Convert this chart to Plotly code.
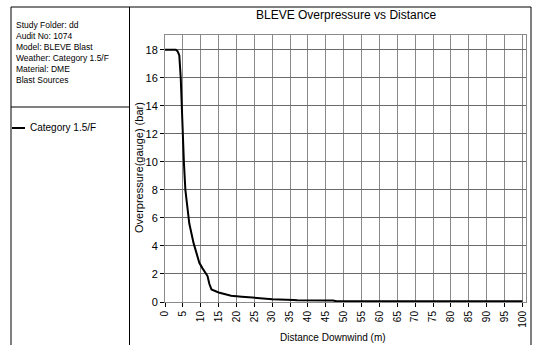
import plotly.graph_objects as go

distance_m = [0, 1, 2, 3, 3.5, 4, 4.4, 4.9, 5.3, 5.7, 6.8, 8.0, 9.6, 10.5, 11.9, 12.4, 13.0, 15,
              18.5, 21.5, 25, 28.5, 30, 36, 37, 47, 48, 100]
overpressure_bar = [18, 18, 18, 18, 17.9, 17.6, 16, 12.2, 9.9, 8.0, 5.6, 4.2, 2.8, 2.4, 1.85, 1.3,
                    0.9, 0.68, 0.45, 0.38, 0.3, 0.25, 0.2, 0.15, 0.12, 0.1, 0.05, 0.05]
x_ticks = list(range(0, 101, 5))
y_ticks = list(range(0, 19, 2))
info_lines = ["Study Folder: dd", "Audit No: 1074", "Model: BLEVE Blast",
              "Weather: Category 1.5/F", "Material: DME", "Blast Sources"]
series_name = "Category 1.5/F"

W, H = 533, 345
L, R, T, B = 165, 526, 35, 302
pw, ph = R - L, B - T
FONT = "Liberation Sans, Arial, sans-serif"


def px(x):
    return (x - L) / pw


def py(y):
    return (B - y) / ph


fig = go.Figure()
fig.add_trace(go.Scatter(x=distance_m, y=overpressure_bar, mode="lines",
                         line=dict(color="black", width=2), name=series_name,
                         showlegend=False, hoverinfo="skip"))

fig.update_layout(
    width=W, height=H,
    margin=dict(l=L, r=W - R, t=T, b=H - B),
    paper_bgcolor="white", plot_bgcolor="white",
    font=dict(family=FONT, size=10, color="black"),
    showlegend=False,
)
fig.update_xaxes(range=[0, 101], tickvals=x_ticks, tickangle=-90,
                 showgrid=True, gridcolor="#8a8a8a", gridwidth=1,
                 ticks="outside", ticklen=4, tickcolor="black",
                 showline=True, linecolor="#8a8a8a", mirror=True, zeroline=False,
                 automargin=False, tickfont=dict(size=10))
fig.update_yaxes(range=[0, 19.05], tickvals=y_ticks,
                 showgrid=True, gridcolor="#6a6a6a", gridwidth=1,
                 ticks="outside", ticklen=4, tickcolor="black",
                 showline=True, linecolor="#8a8a8a", mirror=True, zeroline=False,
                 automargin=False, tickfont=dict(size=11))

# frame
shapes = [
    dict(type="rect", xref="paper", yref="paper", x0=px(11), x1=px(531), y0=py(350), y1=py(7),
         line=dict(color="black", width=1)),
    dict(type="line", xref="paper", yref="paper", x0=px(129.5), x1=px(129.5), y0=py(350), y1=py(7),
         line=dict(color="black", width=1)),
    dict(type="line", xref="paper", yref="paper", x0=px(11), x1=px(129.5), y0=py(107), y1=py(107),
         line=dict(color="black", width=1)),
    dict(type="line", xref="paper", yref="paper", x0=px(12), x1=px(25), y0=py(128), y1=py(128),
         line=dict(color="black", width=2)),
]
annotations = [
    dict(text="<br>".join(info_lines), xref="paper", yref="paper", x=px(14), y=py(18),
         xanchor="left", yanchor="top", align="left", showarrow=False,
         font=dict(size=8.5)),
    dict(text=series_name, xref="paper", yref="paper", x=px(28), y=py(128),
         xanchor="left", yanchor="middle", showarrow=False, font=dict(size=10)),
    dict(text="BLEVE Overpressure vs Distance", xref="paper", yref="paper",
         x=px(346), y=py(15), xanchor="center", yanchor="middle",
         showarrow=False, font=dict(size=12)),
    dict(text="Distance Downwind (m)", xref="paper", yref="paper",
         x=px(333), y=py(338), xanchor="center", yanchor="middle",
         showarrow=False, font=dict(size=10)),
    dict(text="Overpressure(gauge) (bar)", xref="paper", yref="paper",
         x=px(139), y=py(168), xanchor="center", yanchor="middle", textangle=-90,
         showarrow=False, font=dict(size=11)),
]
fig.update_layout(shapes=shapes, annotations=annotations)

fig.write_html("out.html", config={"displayModeBar": False},
               post_script="document.body.style.margin='0';document.body.style.padding='0';")
